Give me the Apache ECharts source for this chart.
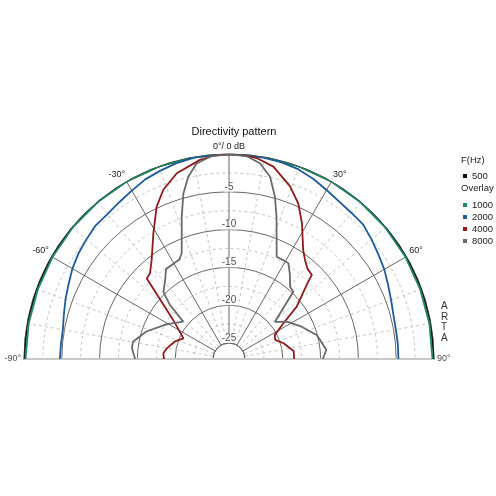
<!DOCTYPE html>
<html>
<head>
<meta charset="utf-8">
<script src="https://cdn.jsdelivr.net/npm/echarts@6/dist/echarts.min.js"></script>
<style>
html,body{margin:0;padding:0;background:#fff;}
#chart{width:496px;height:496px;}
</style>
</head>
<body>
<div id="chart"></div>
<script>
// ---- data (angle in degrees, level in dB) ----
const angleTicks = [-90, -60, -30, 0, 30, 60, 90];
const radialTicks = [-5, -10, -15, -20, -25];
const seriesNames = ['500', '1000', '2000', '4000', '8000'];

const ang500 = [-90,-80,-70,-60,-50,-40,-30,-20,-10,0,10,20,30,40,50,60,70,80,90];
const db500  = [0,0,0,0,0,0,0,0,0,0,0,0,0,0,0,0,0,0,0];

const ang1000 = [-90,-80,-70,-60,-50,-40,-30,-20,-10,0,10,20,30,40,50,60,70,80,90];
const db1000  = [-0.2,-0.2,-0.2,-0.15,-0.1,-0.05,0,0,0,0,0,0,0,-0.05,-0.1,-0.15,-0.2,-0.2,-0.2];

const ang2000 = [-90,-85,-80,-75,-70,-65,-60,-55,-50,-45,-40,-35,-30,-25,-20,-15,-10,-5,0,5,10,15,20,25,30,35,40,45,50,55,60,65,70,75,80,85,90];
const db2000  = [-4.75,-4.8,-4.8,-4.5,-4.1,-3.7,-3.2,-2.8,-2.5,-2.15,-2.1,-1.8,-1.4,-0.9,-0.6,-0.3,-0.1,0,0,0,-0.1,-0.2,-0.4,-0.8,-1.3,-1.7,-1.9,-2.0,-2.5,-3.0,-3.4,-3.9,-4.3,-4.6,-4.7,-4.7,-4.7];

const ang4000 = [-90,-85,-80,-72,-65.6,-55,-48.6,-45.6,-42.7,-38,-31,-25.4,-21.2,-15.7,-8.3,-4,0,4,8,13,19.5,24,28.2,34.3,37.5,41.1,44.6,45.7,52.3,56.7,62.4,67.6,73.9,83,90];
const db4000  = [-18.5,-18.4,-18.8,-19.6,-20.5,-18.1,-14.7,-11.9,-11.7,-10.5,-7.7,-4.8,-3.1,-1.6,-0.5,-0.1,0,-0.1,-0.3,-1.0,-2.9,-4.6,-6.7,-9.7,-10.6,-11.3,-11.5,-12.5,-15.8,-18.5,-20.3,-20.5,-19.6,-18.5,-18.5];

const ang8000 = [-90,-83.7,-79.8,-71.6,-62,-58,-50.8,-47.5,-44.3,-39,-35,-26.5,-24.1,-18.4,-15.4,-12.6,-9.4,-5,0,5,9,12.7,15.8,18.5,25,28.7,31.8,36,40.2,43.7,51,57.1,66,74.7,78.2,84.7,90];
const db8000  = [-14.7,-14.2,-14.2,-15.6,-17.5,-18.2,-19.3,-16.5,-14.7,-13.7,-12.6,-12.4,-11.8,-7.3,-4.4,-2.4,-0.9,-0.2,0,-0.2,-0.9,-2.4,-4.8,-7.3,-12.2,-12.2,-12.2,-13.4,-14.6,-14.8,-19.3,-18.0,-16.6,-15.1,-14.8,-14.2,-14.7];

// ---- layout / style ----
const CX = 229, CY = 359, R0 = 16, R1 = 205;
const FONT = '"Liberation Sans", Arial, sans-serif';
const colors = {'500':'#111111','1000':'#1f8a5b','2000':'#1d5b9b','4000':'#8e1b1b','8000':'#6a6a6a'};

function pairs(angs, dbs){ return angs.map((a,i)=>[dbs[i], a]); }
const seriesData = {
  '500': pairs(ang500, db500),
  '1000': pairs(ang1000, db1000),
  '2000': pairs(ang2000, db2000),
  '4000': pairs(ang4000, db4000),
  '8000': pairs(ang8000, db8000)
};

const chart = echarts.init(document.getElementById('chart'), null, {renderer:'canvas'});

const lineSeries = seriesNames.map(n => ({
  name: n, type: 'line', coordinateSystem: 'polar',
  data: seriesData[n], symbol: 'none', smooth: false,
  lineStyle: { color: colors[n], width: 1.8 },
  itemStyle: { color: colors[n] },
  z: 3
}));

const edgeLabels = [angleTicks[0], angleTicks[angleTicks.length - 1]].map(a => ({
  name: 'edge ' + a, type: 'scatter', coordinateSystem: 'polar',
  data: [[0, a]], symbolSize: 0, silent: true, z: 4,
  label: { show: true, position: a < 0 ? 'left' : 'right', distance: 3, fontSize: 9, color: '#222',
    fontFamily: FONT, formatter: () => a + '°' }
}));

const option = {
  animation: false,
  backgroundColor: '#fff',
  title: {
    text: 'Directivity pattern', left: CX, top: 121, textAlign: 'center',
    textStyle: { fontSize: 11, fontWeight: 'normal', color: '#111', fontFamily: FONT }
  },
  legend: [
    { data: ['500'], orient: 'vertical', left: 458, top: 166, itemWidth: 4, itemHeight: 4, icon: 'rect', itemGap: 2,
      textStyle: { fontSize: 9.5, color: '#222', fontFamily: FONT, lineHeight: 10 }, selectedMode: false },
    { data: ['1000','2000','4000','8000'], orient: 'vertical', left: 458, top: 195, itemWidth: 4, itemHeight: 4, icon: 'rect', itemGap: 2,
      textStyle: { fontSize: 9.5, color: '#222', fontFamily: FONT, lineHeight: 10 }, selectedMode: false }
  ],
  polar: { center: [CX, CY], radius: [R0, R1] },
  angleAxis: {
    type: 'value', min: -90, max: 90, interval: 30,
    startAngle: 180, endAngle: 0, clockwise: true,
    axisLine: { show: true, lineStyle: { color: '#666', width: 1 } },
    axisTick: { show: false },
    axisLabel: { show: true, margin: 3, fontSize: 9, color: '#222', fontFamily: FONT,
      formatter: v => (Math.abs(v) === 90 ? '' : (v === 0 ? '0°/ 0 dB' : v + '°')) },
    splitLine: { show: true, lineStyle: { color: '#666', width: 1 } },
    minorTick: { show: false, splitNumber: 3 },
    minorSplitLine: { show: true, lineStyle: { color: '#c4c4c4', width: 1, type: [3, 3] } }
  },
  radiusAxis: {
    type: 'value', min: -25, max: 0, interval: 5,
    axisLine: { show: false }, axisTick: { show: false }, axisLabel: { show: false },
    splitLine: { show: true, lineStyle: { color: '#666', width: 1 } },
    minorTick: { show: false, splitNumber: 2 },
    minorSplitLine: { show: true, lineStyle: { color: '#c4c4c4', width: 1, type: [3, 3] } }
  },
  graphic: [
    { type: 'rect', z: 1, shape: { x: 0, y: CY + 1, width: 496, height: 496 - CY },
      style: { fill: '#fff' } },
    { type: 'line', z: 1, shape: { x1: CX - R1, y1: CY, x2: CX + R1, y2: CY },
      style: { stroke: '#c8c8c8', lineWidth: 2 } },
    { type: 'text', left: 461, top: 155,
      style: { text: 'F(Hz)', fontSize: 9.5, fill: '#222', fontFamily: FONT } },
    { type: 'text', left: 461, top: 183,
      style: { text: 'Overlay', fontSize: 9.5, fill: '#222', fontFamily: FONT } },
    { type: 'text', left: 441, top: 301,
      style: { text: 'A\nR\nT\nA', fontSize: 10, lineHeight: 10.5, fill: '#333', fontFamily: FONT, align: 'center' } }
  ],
  series: lineSeries.concat(edgeLabels).concat([{
    name: 'dB labels', type: 'scatter', coordinateSystem: 'polar',
    data: radialTicks.map(v => [v, 0]), symbolSize: 0, silent: true, z: 4,
    label: { show: true, position: 'top', distance: 0, fontSize: 10, color: '#222', fontFamily: FONT,
      backgroundColor: '#fff', padding: [0, 1, 0, 1], formatter: p => String(p.value[0]) }
  }])
};
chart.setOption(option);
</script>
</body>
</html>
